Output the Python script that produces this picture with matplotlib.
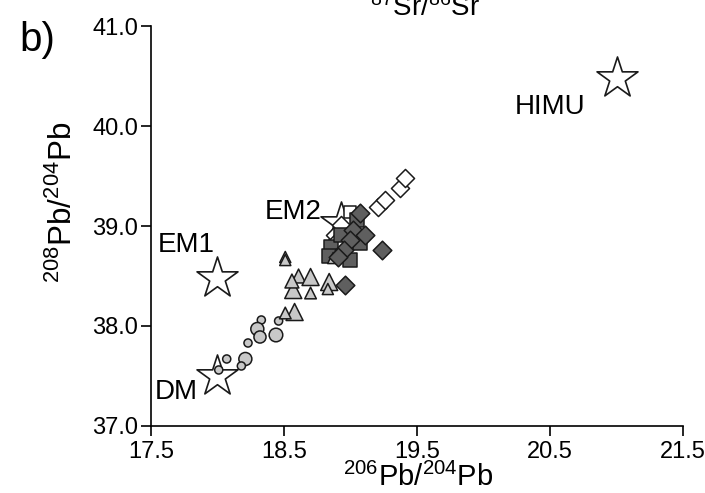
import numpy as np
import matplotlib
matplotlib.use("Agg")
import matplotlib.pyplot as plt
from matplotlib.ticker import FormatStrFormatter

plt.rcParams['font.family'] = ['Liberation Sans', 'DejaVu Sans']
plt.rcParams['mathtext.fontset'] = 'custom'
plt.rcParams['mathtext.rm'] = 'Liberation Sans'
plt.rcParams['mathtext.it'] = 'Liberation Sans'

## end-member reservoirs (open stars)
em_names = ['HIMU', 'EM1', 'DM', 'EM2']
em_x = [21.0, 18.0, 18.0, 18.93]
em_y = [40.48, 38.48, 37.5, 39.03]

## light grey circles
circ_x = [18.33, 18.30, 18.32, 18.44, 18.46, 18.23, 18.21, 18.18, 18.07, 18.01]
circ_y = [38.06, 37.97, 37.89, 37.91, 38.05, 37.83, 37.67, 37.60, 37.67, 37.56]
circ_s = [34, 88, 76, 96, 34, 34, 88, 34, 34, 34]

## light grey triangles
tri_x = [18.51, 18.51, 18.61, 18.70, 18.57, 18.70, 18.84, 18.83, 18.58, 18.51, 18.56, 18.87]
tri_y = [38.69, 38.66, 38.50, 38.49, 38.36, 38.33, 38.44, 38.37, 38.14, 38.13, 38.45, 38.68]
tri_s = [64, 64, 100, 150, 150, 70, 150, 64, 150, 70, 100, 64]

## open diamonds
wdia_x = [19.21, 19.26, 19.37, 19.41, 18.88, 18.93, 18.91]
wdia_y = [39.19, 39.26, 39.38, 39.48, 38.91, 39.01, 38.86]

## open squares
wsq_x = [19.0]
wsq_y = [39.14]

## dark grey squares
dsq_x = [18.85, 18.84, 18.93, 19.05, 19.07, 19.00]
dsq_y = [38.79, 38.70, 38.91, 39.06, 38.83, 38.66]

## dark grey diamonds
ddia_x = [19.07, 19.02, 19.11, 19.00, 18.95, 18.91, 19.24, 18.96]
ddia_y = [39.13, 38.96, 38.91, 38.86, 38.76, 38.69, 38.76, 38.41]

light = '#c8c8c8'
dark = '#5f5f5f'
edge = '#1a1a1a'

fig = plt.figure(figsize=(7.05, 4.93), dpi=100)
ax = fig.add_axes([0.214, 0.136, 0.755, 0.811])

ax.scatter(em_x, em_y, marker='*', s=31**2, facecolor='white', edgecolor=edge, linewidth=1.2, zorder=2)
ax.scatter(circ_x, circ_y, marker='o', s=circ_s, facecolor=light, edgecolor=edge, linewidth=1.1, zorder=3)
ax.scatter(wdia_x, wdia_y, marker='D', s=85, facecolor='white', edgecolor=edge, linewidth=1.1, zorder=3)
ax.scatter(wsq_x, wsq_y, marker='s', s=85, facecolor='white', edgecolor=edge, linewidth=1.1, zorder=3)
ax.scatter(dsq_x, dsq_y, marker='s', s=90, facecolor=dark, edgecolor=edge, linewidth=1.1, zorder=4)
ax.scatter(tri_x, tri_y, marker='^', s=tri_s, facecolor=light, edgecolor=edge, linewidth=1.1, zorder=4)
ax.scatter(ddia_x, ddia_y, marker='D', s=90, facecolor=dark, edgecolor=edge, linewidth=1.1, zorder=5)

## reservoir labels
ax.text(20.763, 40.19, 'HIMU', fontsize=20, ha='right', va='center')
ax.text(17.55, 38.81, 'EM1', fontsize=20, ha='left', va='center')
ax.text(17.53, 37.34, 'DM', fontsize=20, ha='left', va='center')
ax.text(18.357, 39.14, 'EM2', fontsize=20, ha='left', va='center')

ax.set_xlim(17.5, 21.5)
ax.set_ylim(37.0, 41.0)
ax.set_xticks([17.5, 18.5, 19.5, 20.5, 21.5])
ax.set_yticks([37.0, 38.0, 39.0, 40.0, 41.0])
ax.xaxis.set_major_formatter(FormatStrFormatter('%.1f'))
ax.yaxis.set_major_formatter(FormatStrFormatter('%.1f'))
ax.tick_params(direction='out', length=7, width=1.2, labelsize=17, pad=2)
ax.tick_params(axis='x', pad=4)
ax.spines['top'].set_visible(False)
ax.spines['right'].set_visible(False)
ax.spines['left'].set_linewidth(1.2)
ax.spines['bottom'].set_linewidth(1.2)

xl = ax.set_xlabel(r'$^{206}$Pb/$^{204}$Pb', fontsize=21)
xl.set_va('center')
ax.xaxis.set_label_coords(0.502, -0.128)
yl = ax.set_ylabel(r'$^{208}$Pb/$^{204}$Pb', fontsize=22.5)
yl.set_va('center')
ax.yaxis.set_label_coords(-0.165, 0.56)

fig.text(0.028, 0.918, 'b)', fontsize=29, ha='left', va='center')
## label of the panel above, cut off by the crop
fig.text(0.603, 0.968, r'$^{87}$Sr/$^{86}$Sr', fontsize=20, ha='center', va='baseline')

fig.savefig('out.png', dpi=100)
